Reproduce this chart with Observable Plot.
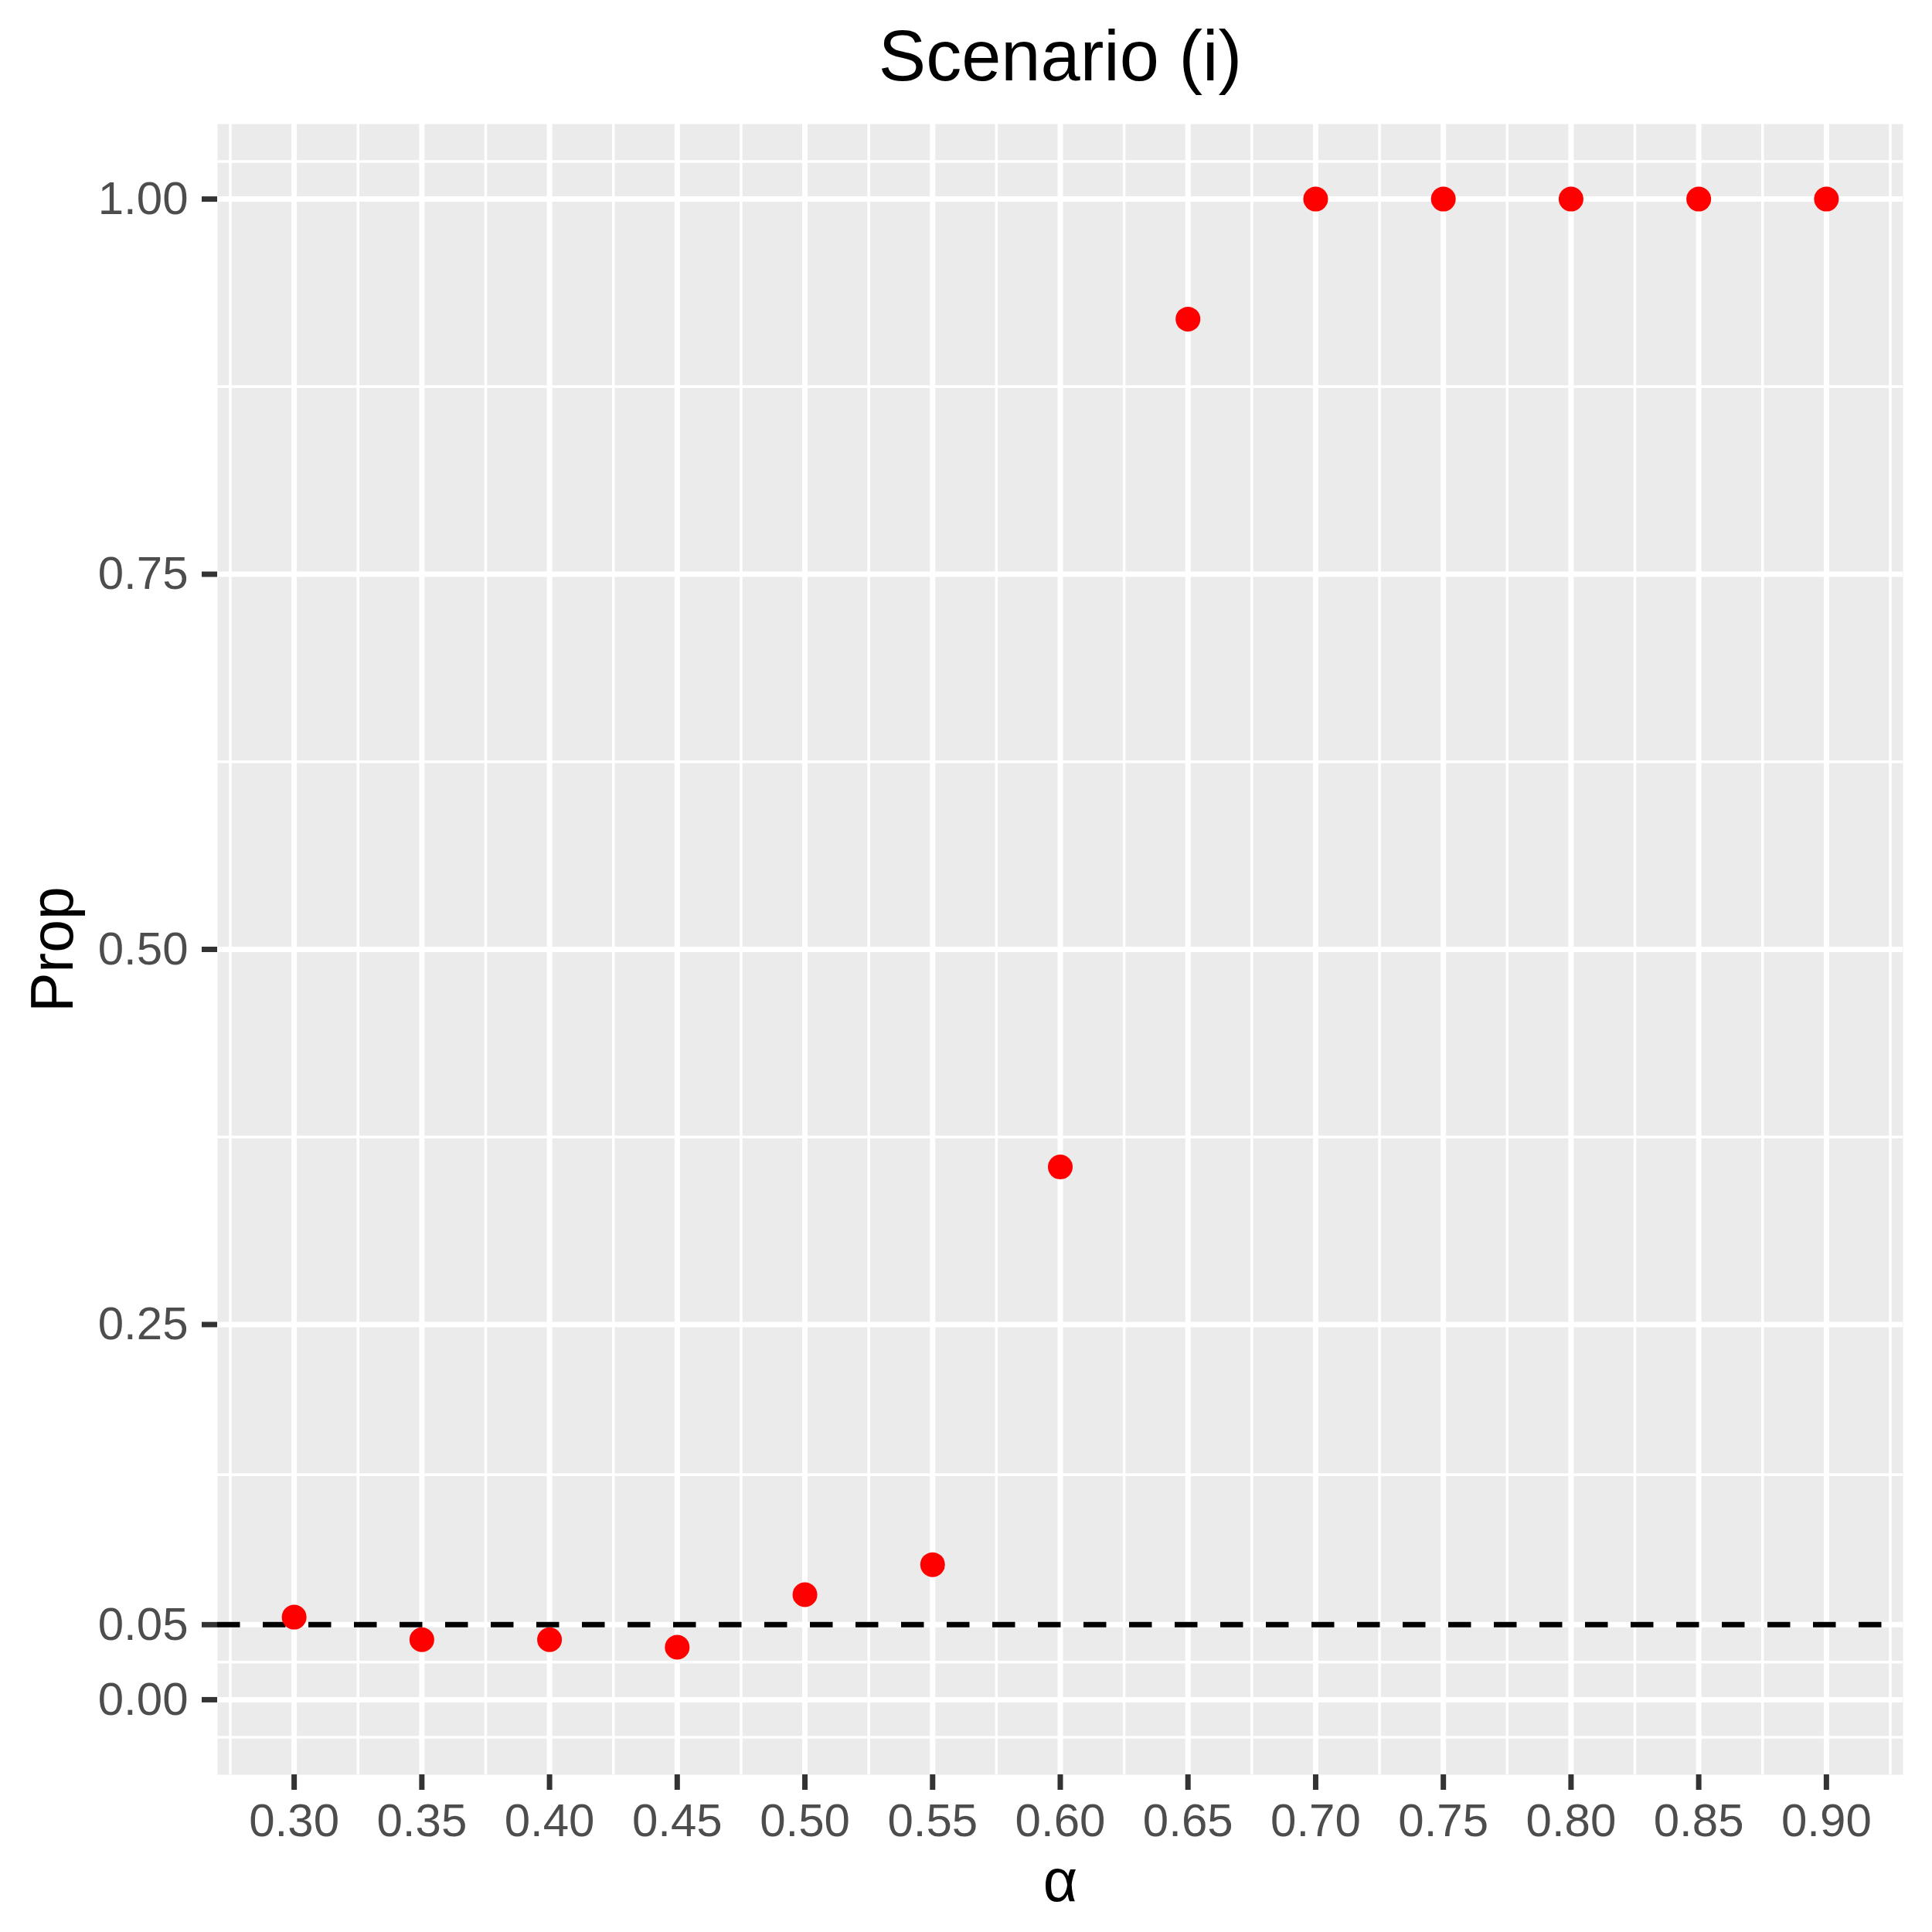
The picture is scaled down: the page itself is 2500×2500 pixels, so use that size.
<!DOCTYPE html>
<html>
<head>
<meta charset="utf-8">
<script src="https://cdn.jsdelivr.net/npm/d3@7"></script>
<script src="https://cdn.jsdelivr.net/npm/@observablehq/plot@0.6"></script>
<style>
  html, body { margin: 0; padding: 0; background: #ffffff; }
  #chart { width: 2500px; height: 2500px; }
</style>
</head>
<body>
<div id="chart"></div>
<script>
// ---- Data ----
const alpha = [0.30, 0.35, 0.40, 0.45, 0.50, 0.55, 0.60, 0.65, 0.70, 0.75, 0.80, 0.85, 0.90];
const prop  = [0.055, 0.040, 0.040, 0.035, 0.070, 0.090, 0.355, 0.920, 1.000, 1.000, 1.000, 1.000, 1.000];

const xTicks = [0.30, 0.35, 0.40, 0.45, 0.50, 0.55, 0.60, 0.65, 0.70, 0.75, 0.80, 0.85, 0.90];
const xMinor = [0.275, 0.325, 0.375, 0.425, 0.475, 0.525, 0.575, 0.625, 0.675, 0.725, 0.775, 0.825, 0.875, 0.925];
const yTicks = [0.00, 0.05, 0.25, 0.50, 0.75, 1.00];
const yMinor = [-0.025, 0.025, 0.15, 0.375, 0.625, 0.875, 1.025];
const refLine = [0.05];

const titleText = ["Scenario (i)"];
const xLabel = ["α"];
const yLabel = ["Prop"];

const data = alpha.map((a, i) => ({alpha: a, prop: prop[i]}));
const fmt = d3.format(".2f");

const chart = Plot.plot({
  width: 2500,
  height: 2500,
  marginLeft: 281,
  marginRight: 38,
  marginTop: 160,
  marginBottom: 204,
  x: {domain: [0.27, 0.93]},
  y: {domain: [-0.05, 1.05]},
  style: {fontFamily: "'Liberation Sans', Arial, sans-serif", background: "#ffffff", overflow: "visible"},
  marks: [
    Plot.frame({fill: "#EBEBEB", stroke: null}),
    Plot.ruleX(xMinor, {stroke: "#ffffff", strokeWidth: 3.5}),
    Plot.ruleY(yMinor, {stroke: "#ffffff", strokeWidth: 3.5}),
    Plot.ruleX(xTicks, {stroke: "#ffffff", strokeWidth: 7}),
    Plot.ruleY(yTicks, {stroke: "#ffffff", strokeWidth: 7}),
    Plot.ruleY(refLine, {stroke: "#000000", strokeWidth: 7, strokeDasharray: "29.5,29.5"}),
    Plot.dot(data, {x: "alpha", y: "prop", r: 16, fill: "#FF0000", stroke: null}),
    Plot.axisX(xTicks, {
      tickSize: 20, tickPadding: 17, tickFormat: fmt,
      fontSize: 60, fill: "#4D4D4D", stroke: "#333333", strokeWidth: 7, label: null
    }),
    Plot.axisY(yTicks, {
      tickSize: 20, tickPadding: 18, tickFormat: fmt,
      fontSize: 60, fill: "#4D4D4D", stroke: "#333333", strokeWidth: 7, label: null
    }),
    Plot.text(xLabel, {text: d => d, frameAnchor: "bottom", lineAnchor: "middle", textAnchor: "middle", dy: 139, fontSize: 77, fill: "#000000"}),
    Plot.text(yLabel, {text: d => d, frameAnchor: "left", lineAnchor: "middle", textAnchor: "middle", rotate: -90, dx: -212, fontSize: 77, fill: "#000000"}),
    Plot.text(titleText, {text: d => d, frameAnchor: "top", lineAnchor: "middle", textAnchor: "middle", dy: -86, fontSize: 92, fill: "#000000"})
  ]
});

document.getElementById("chart").appendChild(chart);
</script>
</body>
</html>
